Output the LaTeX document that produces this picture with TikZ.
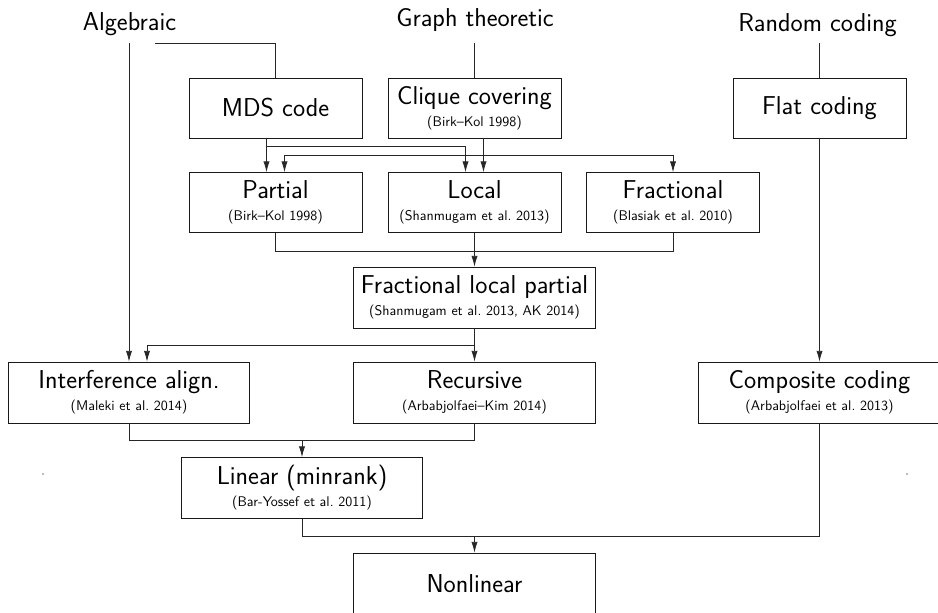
\documentclass[tikz,border=0pt]{standalone}
\usepackage{tikz}
\usetikzlibrary{arrows.meta,calc,positioning}
\newcommand{\src}[1]{\\[-3.5pt]{\fontsize{10.5}{11}\selectfont(#1)}}

\begin{document}
\begin{tikzpicture}[
    x=0.75pt, y=-0.75pt,
    font=\sffamily,
    heading/.style={font=\sffamily\fontsize{19.4}{22}\selectfont, anchor=base, inner sep=0},
    box/.style={draw=black!90, line width=0.6pt, rectangle, align=center, minimum width=129.75pt, minimum height=45pt, inner xsep=2pt, font=\sffamily\fontsize{19.4}{20}\selectfont},
    widebox/.style={box, minimum width=181pt, minimum height=45.75pt},
    dot/.style={circle, fill=black!35, inner sep=0, minimum size=1.6pt},
    link/.style={line width=0.55pt, draw=black!85},
    flow/.style={link, -{Latex[length=8pt,width=4.6pt]}}]
\useasboundingbox (0,0) rectangle (938,612);

\node[heading] (alg)   at (129.5,30)  {Algebraic};
\node[heading] (graph) at (475,26)    {Graph theoretic};
\node[heading] (rand)  at (817.5,31.5) {Random coding};
\coordinate (alg-out)   at (129,43);
\coordinate (alg-side)  at (155,43);
\coordinate (graph-out) at (474.5,43);
\coordinate (rand-out)  at (819.5,43);

\node[box] (mds)     at (275.5,108)   {MDS code};
\node[box] (clique)  at (474.5,108)   {Clique covering\src{Birk--Kol 1998}};
\node[box] (flat)    at (819.5,108)   {Flat coding};
\node[box] (partial) at (275.5,202.5) {Partial\src{Birk--Kol 1998}};
\node[box] (local)   at (474.5,202.5) {Local\src{Shanmugam et al.\ 2013}};
\node[box] (frac)    at (673,202.5)   {Fractional\src{Blasiak et al.\ 2010}};
\node[widebox] (flp)    at (474.5,297.5) {Fractional local partial\src{Shanmugam et al.\ 2013, AK 2014}};
\node[widebox] (ia)     at (129,392.5)   {Interference align.\src{Maleki et al.\ 2014}};
\node[widebox] (rec)    at (474.5,392.5) {Recursive\src{Arbabjolfaei--Kim 2014}};
\node[widebox] (comp)   at (819.5,392.5) {Composite coding\src{Arbabjolfaei et al.\ 2013}};
\node[widebox] (lin)    at (302,488)     {Linear (minrank)\src{Bar-Yossef et al.\ 2011}};
\node[widebox] (nonlin) at (474.5,583.5) {Nonlinear};
\node[dot] (dot-l) at (43,474) {};
\node[dot] (dot-r) at (907,474) {};

\draw[flow] (alg-out) -- (ia);
\draw[link] (alg-side) -| (mds);
\draw[link] (graph-out) -- (clique);
\draw[link] (rand-out) -- (flat);

\draw[flow] ([xshift=-6.75pt]mds.south) -- ([xshift=-6.75pt]partial.north);
\draw[flow] ([xshift=-6.75pt]mds.south) -- ++(0,8) -| ([xshift=-6.75pt]local.north);
\draw[flow] ([xshift=6.75pt]clique.south) -- ([xshift=6.75pt]local.north);
\draw[flow] ([xshift=6.75pt]clique.south) -- ++(0,17) -| ([xshift=6.75pt]partial.north);
\draw[flow] ([xshift=6.75pt]clique.south) -- ++(0,17) -| (frac.north);

\draw[link] (partial.south) -- ++(0,18) -| (frac.south);
\draw[flow] (local) -- (flp);
\draw[flow] (flp) -- (rec);
\draw[flow] (flp.south) -- ++(0,17) -| ([xshift=13.5pt]ia.north);
\draw[flow] (flat) -- (comp);

\draw[link] (ia.south) -- ++(0,17) coordinate (ia-rec) -| (rec.south);
\draw[flow] (ia-rec -| lin.north) -- (lin);
\draw[link] (lin.south) -- ++(0,17) coordinate (lin-comp) -| (comp.south);
\draw[flow] (lin-comp -| nonlin.north) -- (nonlin);

\end{tikzpicture}
\end{document}
